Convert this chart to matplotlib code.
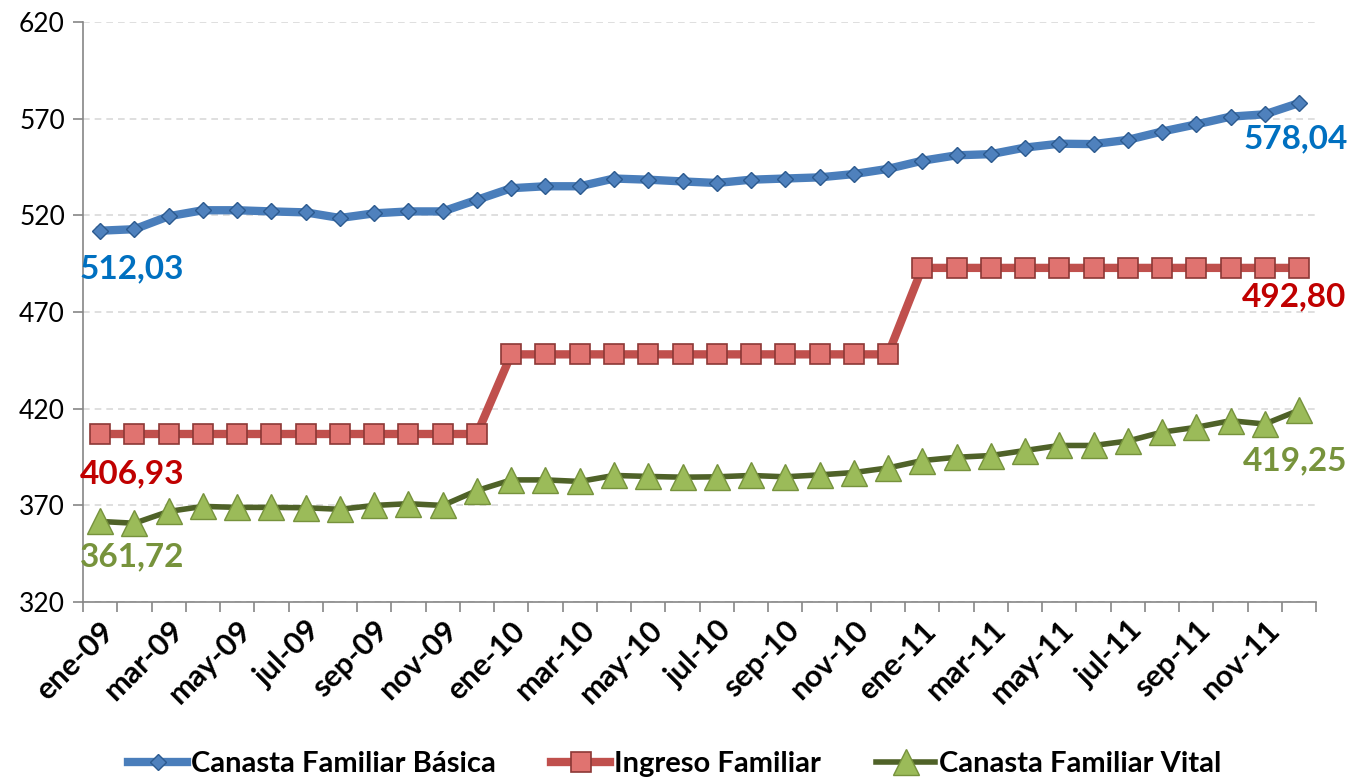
import matplotlib
matplotlib.use("Agg")
import matplotlib.pyplot as plt
from matplotlib.ticker import FixedLocator

plt.rcParams['font.family'] = ['Lato', 'DejaVu Sans']

# monthly data, ene-09 .. dic-11
meses = ["ene", "feb", "mar", "abr", "may", "jun", "jul", "ago", "sep", "oct", "nov", "dic"]
months = [f"{m}-{y}" for y in ("09", "10", "11") for m in meses]

basica = [512.03, 512.8, 519.5, 522.6, 522.6, 522.0, 521.5, 518.6, 521.0, 522.0,
          522.0, 528.0, 534.0, 535.0, 535.0, 539.0, 538.4, 537.5, 536.7, 538.4,
          539.0, 539.6, 541.3, 544.0, 548.2, 551.0, 551.6, 555.0, 557.0, 556.8,
          559.0, 563.3, 567.0, 571.0, 572.2, 578.04]
ingreso = [406.93] * 12 + [448.1] * 12 + [492.80] * 12
vital = [361.72, 360.8, 366.9, 369.5, 369.0, 369.0, 368.8, 368.0, 370.0, 370.9,
         370.0, 377.7, 383.2, 383.2, 382.4, 385.5, 385.0, 384.6, 384.8, 385.5,
         384.8, 385.8, 387.0, 389.4, 393.2, 394.9, 395.8, 398.4, 401.0, 401.0,
         403.3, 407.9, 410.4, 413.8, 412.1, 419.25]
yticks = [320, 370, 420, 470, 520, 570, 620]

fig = plt.figure(figsize=(13.5, 7.8), dpi=100)
ax = fig.add_axes([0.0615, 0.228, 0.9135, 0.744])

x = list(range(len(months)))

ax.plot(x, basica, color="#4a7ebb", lw=6, marker="D", ms=8,
        mfc="#4f81bd", mec="#2c5a8f", mew=1, label="Canasta Familiar Básica", zorder=3)
ax.plot(x, ingreso, color="#c0504d", lw=6, marker="s", ms=15,
        mfc="#e07370", mec="#8c3836", mew=1.2, label="Ingreso Familiar", zorder=3)
ax.plot(x, vital, color="#4f6228", lw=4, marker="^", ms=19,
        mfc="#9bbb59", mec="#76923c", mew=1, label="Canasta Familiar Vital", zorder=3)

# data labels at the start and end points
lab = dict(fontsize=24, fontweight="bold", ha="center", va="center",
           textcoords="offset pixels")
ax.annotate("512,03", (0, basica[0]), xytext=(32, -38), color="#0070c0", **lab)
ax.annotate("578,04", (35, basica[-1]), xytext=(-3, -36), color="#0070c0", **lab)
ax.annotate("406,93", (0, ingreso[0]), xytext=(32, -40), color="#c00000", **lab)
ax.annotate("492,80", (35, ingreso[-1]), xytext=(-5, -29), color="#c00000", **lab)
ax.annotate("361,72", (0, vital[0]), xytext=(32, -35), color="#77933c", **lab)
ax.annotate("419,25", (35, vital[-1]), xytext=(-4, -51), color="#77933c", **lab)

ax.set_xlim(-0.5, len(months) - 0.5)
ax.set_ylim(320, 620)
ax.set_yticks(yticks)
ax.grid(axis="y", color="#d9d9d9", linestyle=(0, (4, 3)), lw=1.2)
ax.set_axisbelow(True)

ax.xaxis.set_major_locator(FixedLocator(x[::2]))
ax.set_xticklabels(months[::2], rotation=45, ha="right", rotation_mode="anchor",
                   fontsize=22, fontweight="bold")
ax.xaxis.set_minor_locator(FixedLocator([i - 0.5 for i in range(len(months) + 1)]))
ax.tick_params(axis="x", which="major", length=0, pad=10)
ax.tick_params(axis="x", which="minor", length=7, color="#868686", width=1.2)
ax.tick_params(axis="y", length=7, color="#868686", width=1.2, labelsize=19, pad=6)

for s in ("top", "right"):
    ax.spines[s].set_visible(False)
for s in ("left", "bottom"):
    ax.spines[s].set_color("#868686")
    ax.spines[s].set_linewidth(1.2)

fig.legend(loc="lower center", bbox_to_anchor=(0.5, -0.03), ncol=3, frameon=False,
           prop={"size": 21, "weight": "bold"}, handlelength=2.0, columnspacing=1.9,
           handletextpad=0.15)

fig.savefig("out.png", dpi=100)
